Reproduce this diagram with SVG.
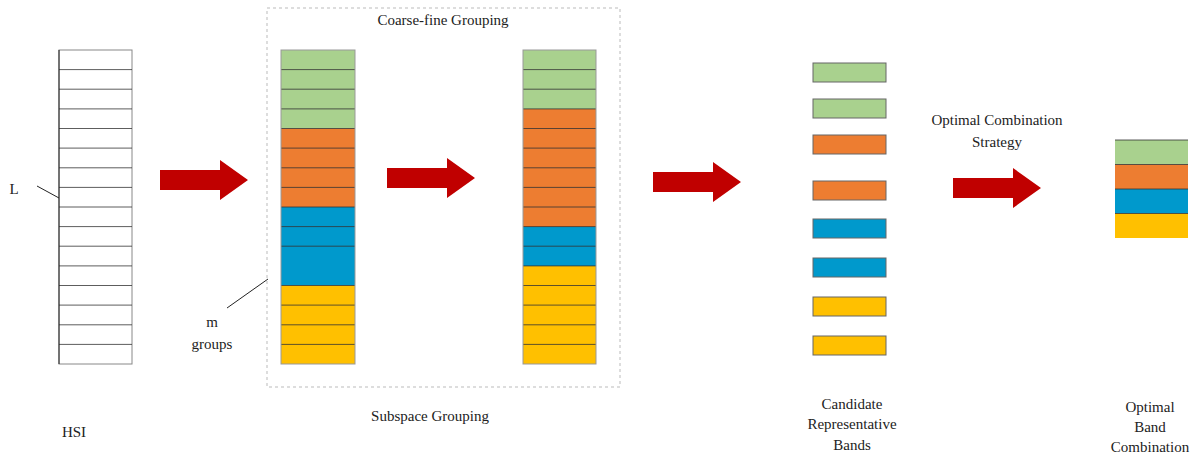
<svg xmlns="http://www.w3.org/2000/svg" width="1200" height="457" viewBox="0 0 1200 457">
<defs><style>
text{font-family:"Liberation Serif",serif;font-size:15px;fill:#222;text-anchor:middle}
.g{fill:#a9d18e}.o{fill:#ed7d31}.b{fill:#0099cc}.y{fill:#ffc000}
.ln{stroke:#333;stroke-width:0.8}
.arr{fill:#c00000}
</style>
<path id="ar" d="M0,-10H60V-20L88,0L60,20V10H0Z"/></defs>
<rect width="1200" height="457" fill="#fff"/>
<rect x="267" y="8" width="353" height="379" fill="none" stroke="#bbb" stroke-dasharray="3,3"/>
<text x="443" y="25">Coarse-fine Grouping</text>
<g id="hsi"><rect x="59" y="50" width="73" height="314" fill="#fff" stroke="#888"/>
<path class="ln" stroke="#999" d="M59,69.6H132M59,89.2H132M59,108.9H132M59,128.5H132M59,148.1H132M59,167.8H132M59,187.4H132M59,207H132M59,226.6H132M59,246.2H132M59,265.9H132M59,285.5H132M59,305.1H132M59,324.8H132M59,344.4H132"/>
<line x1="59" y1="50" x2="59" y2="364" stroke="#222"/>
<text x="74" y="437">HSI</text></g>
<g id="L"><text x="14" y="194">L</text><line x1="37" y1="186" x2="59" y2="198" stroke="#222"/></g>
<g id="col1">
<rect class="g" x="281" y="50" width="74" height="78.5"/><rect class="o" x="281" y="128.5" width="74" height="78.5"/><rect class="b" x="281" y="207" width="74" height="78.5"/><rect class="y" x="281" y="285.5" width="74" height="78.5"/>
<path class="ln" d="M281,69.6H355M281,89.2H355M281,108.9H355M281,128.5H355M281,148.1H355M281,167.8H355M281,187.4H355M281,207H355M281,226.6H355M281,246.2H355M281,285.5H355M281,305.1H355M281,324.8H355M281,344.4H355"/>
<rect x="281" y="50" width="74" height="314" fill="none" stroke="#999"/></g>
<g id="mgroups"><text x="212" y="327">m</text><text x="212" y="349">groups</text><line x1="227" y1="308" x2="268" y2="279" stroke="#222"/></g>
<text x="430" y="421">Subspace Grouping</text>
<g id="col2">
<rect class="g" x="523" y="50" width="73" height="59"/><rect class="o" x="523" y="109" width="73" height="118"/><rect class="b" x="523" y="227" width="73" height="39"/><rect class="y" x="523" y="266" width="73" height="98"/>
<path class="ln" d="M523,69.6H596M523,89.2H596M523,108.9H596M523,128.5H596M523,148.1H596M523,167.8H596M523,187.4H596M523,207H596M523,226.6H596M523,246.2H596M523,265.9H596M523,285.5H596M523,305.1H596M523,324.8H596M523,344.4H596"/>
<rect x="523" y="50" width="73" height="314" fill="none" stroke="#999"/></g>
<g id="cand" stroke="#666">
<rect class="g" x="813" y="63" width="73" height="19"/><rect class="g" x="813" y="99" width="73" height="19"/>
<rect class="o" x="813" y="135" width="73" height="19"/><rect class="o" x="813" y="181" width="73" height="19"/>
<rect class="b" x="813" y="219" width="73" height="19"/><rect class="b" x="813" y="258" width="73" height="19"/>
<rect class="y" x="813" y="297" width="73" height="19"/><rect class="y" x="813" y="336" width="73" height="19"/></g>
<text x="852" y="409">Candidate</text><text x="852" y="429">Representative</text><text x="852" y="450">Bands</text>
<text x="997" y="125">Optimal Combination</text><text x="997" y="147">Strategy</text>
<g id="final">
<rect class="g" x="1115" y="140" width="73" height="24.5"/><rect class="o" x="1115" y="164.5" width="73" height="24.5"/><rect class="b" x="1115" y="189" width="73" height="24.5"/><rect class="y" x="1115" y="213.5" width="73" height="24.5"/>
<path class="ln" d="M1115,140H1188M1115,164.5H1188M1115,189H1188M1115,213.5H1188"/></g>
<text x="1150" y="412">Optimal</text><text x="1150" y="432">Band</text><text x="1150" y="452">Combination</text>
<g id="connectors" class="arr">
<use href="#ar" x="160" y="180"/><use href="#ar" x="387" y="178"/><use href="#ar" x="653" y="182"/><use href="#ar" x="953" y="188"/></g>
</svg>
